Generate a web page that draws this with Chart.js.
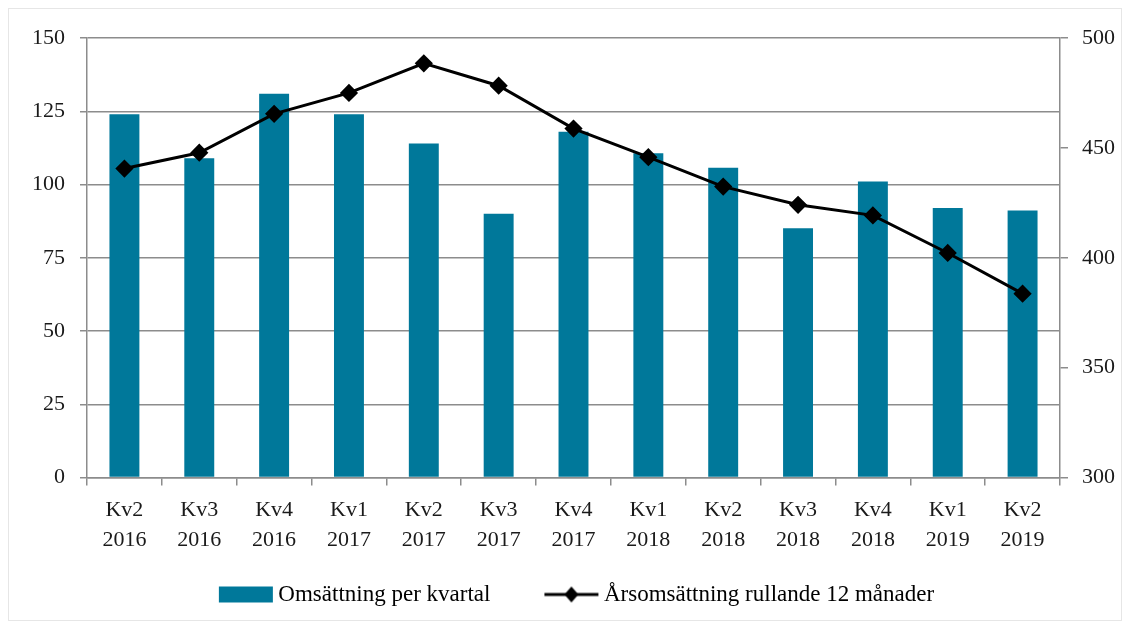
<!DOCTYPE html>
<html lang="sv">
<head>
  <meta charset="UTF-8">
  <title>Omsättning</title>
  <script src="https://cdn.jsdelivr.net/npm/chart.js"></script>
  <style>
    html, body { margin: 0; padding: 0; background: #fff; }
    #wrap { position: relative; width: 1127px; height: 627px; }
    #wrap:before { content: ''; position: absolute; left: 8px; top: 8px; width: 1112px; height: 611px; border: 1px solid #e6e6e6; pointer-events: none; }
  </style>
</head>
<body>
<div id="wrap">
  <canvas id="chart" width="1127" height="627"></canvas>
</div>

<script>
  // kvartal
  const quarters = [
    ['Kv2', '2016'], ['Kv3', '2016'], ['Kv4', '2016'], ['Kv1', '2017'], ['Kv2', '2017'],
    ['Kv3', '2017'], ['Kv4', '2017'], ['Kv1', '2018'], ['Kv2', '2018'], ['Kv3', '2018'],
    ['Kv4', '2018'], ['Kv1', '2019'], ['Kv2', '2019']
  ];
  const quarterly = [124, 109, 131, 124, 114, 90, 118, 110.7, 105.7, 85.1, 101, 92, 91.1];
  const rolling12 = [440.6, 447.8, 465.5, 475, 488.5, 478.3, 458.8, 445.8, 432.4, 424.1, 419.3, 402.2, 383.7];
  const leftTicks = [0, 25, 50, 75, 100, 125, 150];
  const rightTicks = [300, 350, 400, 450, 500];

  const teal = '#00789a';
  const gridGray = '#8c8c8c';
  const fontFamily = '"Liberation Serif", "DejaVu Serif", serif';

  // legend symbols: 54px symbol drawn at the right of a wider transparent canvas
  // so the items get some space between them and sit close to their text
  function symbolCanvas(draw) {
    const c = document.createElement('canvas');
    c.width = 98; c.height = 18;
    const g = c.getContext('2d');
    g.translate(43, 0);
    draw(g);
    return c;
  }
  const barSymbol = symbolCanvas(g => {
    g.fillStyle = teal;
    g.fillRect(0, 1, 54, 16);
  });
  const lineSymbol = symbolCanvas(g => {
    g.strokeStyle = '#000'; g.lineWidth = 3;
    g.beginPath(); g.moveTo(0, 9); g.lineTo(54, 9); g.stroke();
    g.fillStyle = '#000';
    g.beginPath(); g.moveTo(27, 1); g.lineTo(34, 9); g.lineTo(27, 17); g.lineTo(20, 9); g.closePath(); g.fill();
  });

  const ctx = document.getElementById('chart').getContext('2d');
  new Chart(ctx, {
    data: {
      labels: quarters,
      datasets: [
        {
          type: 'line',
          label: 'Årsomsättning rullande 12 månader',
          data: rolling12,
          yAxisID: 'y2',
          borderColor: '#000',
          backgroundColor: '#000',
          borderWidth: 3,
          pointStyle: 'rectRot',
          pointRadius: 7,
          pointHoverRadius: 7,
          tension: 0,
          order: 0
        },
        {
          type: 'bar',
          label: 'Omsättning per kvartal',
          data: quarterly,
          yAxisID: 'y',
          backgroundColor: teal,
          barPercentage: 0.4,
          categoryPercentage: 1.0,
          order: 1
        }
      ]
    },
    options: {
      responsive: false,
      animation: false,
      layout: { padding: { top: 38, right: 10, bottom: 11, left: 0 } },
      plugins: {
        tooltip: { enabled: false },
        legend: {
          position: 'bottom',
          reverse: true,
          labels: {
            usePointStyle: true,
            pointStyleWidth: 84,
            boxHeight: 18,
            color: '#1a1a1a',
            font: { family: fontFamily, size: 23 },
            padding: 18,
            generateLabels: (chart) => chart.data.datasets.map((ds, i) => ({
              text: ds.label,
              pointStyle: ds.type === 'bar' ? barSymbol : lineSymbol,
              datasetIndex: i,
              hidden: false,
              fillStyle: '#000',
              strokeStyle: '#000',
              lineWidth: 0
            }))
          }
        }
      },
      scales: {
        x: {
          offset: true,
          grid: { offset: true, drawOnChartArea: false, color: gridGray, tickLength: 8, lineWidth: 1.5 },
          border: { color: gridGray, width: 1.5 },
          ticks: { color: '#1a1a1a', font: { family: fontFamily, size: 22, lineHeight: 1.35 }, maxRotation: 0, padding: 10 }
        },
        y: {
          position: 'left',
          min: 0, max: 150,
          afterBuildTicks: (axis) => { axis.ticks = leftTicks.map(v => ({ value: v })); },
          afterFit: (axis) => { axis.width = 87; },
          grid: { color: gridGray, lineWidth: 1.5, tickLength: 7 },
          border: { color: gridGray, width: 1.5 },
          ticks: { color: '#1a1a1a', font: { family: fontFamily, size: 22 }, padding: 15 }
        },
        y2: {
          position: 'right',
          min: 300, max: 500,
          afterBuildTicks: (axis) => { axis.ticks = rightTicks.map(v => ({ value: v })); },
          afterFit: (axis) => { axis.width = 57; },
          grid: { drawOnChartArea: false, color: gridGray, lineWidth: 1.5, tickLength: 8 },
          border: { color: gridGray, width: 1.5 },
          ticks: { color: '#1a1a1a', font: { family: fontFamily, size: 22 }, padding: 14 }
        }
      }
    }
  });
</script>
</body>
</html>
